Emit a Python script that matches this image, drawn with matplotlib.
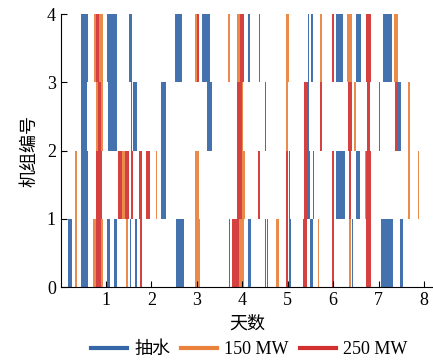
import matplotlib.pyplot as plt
from matplotlib.lines import Line2D

plt.rcParams['font.family'] = ['Liberation Serif', 'Noto Sans CJK SC']
plt.rcParams['axes.unicode_minus'] = False

# 运行区间 (起始天, 结束天, 工况)  工况: 0=抽水, 1=150 MW, 2=250 MW
unit1 = [(0.17, 0.26, 0), (0.32, 0.37, 1), (0.45, 0.61, 0), (0.72, 0.78, 1), (0.78, 0.90, 2),
         (0.90, 0.94, 1), (1.02, 1.09, 0), (1.17, 1.25, 0), (1.44, 1.49, 1), (1.53, 1.55, 0),
         (1.64, 1.68, 0), (1.75, 1.79, 2), (2.53, 2.72, 0), (2.96, 3.06, 1), (3.70, 3.74, 2),
         (3.77, 3.92, 2), (3.92, 4.03, 1), (4.12, 4.19, 0), (4.47, 4.48, 2), (4.51, 4.52, 0),
         (4.55, 4.56, 2), (4.75, 4.80, 1), (4.97, 5.01, 2), (5.03, 5.08, 0), (5.33, 5.43, 2),
         (5.50, 5.55, 0), (5.66, 5.70, 1), (5.97, 6.01, 2), (6.34, 6.39, 1), (6.42, 6.44, 0),
         (6.72, 6.84, 2), (7.05, 7.33, 0), (7.47, 7.53, 0)]
unit2 = [(0.32, 0.37, 1), (0.44, 0.61, 0), (0.79, 0.92, 2), (1.27, 1.35, 2), (1.35, 1.42, 1),
         (1.42, 1.50, 2), (1.55, 1.59, 2), (1.73, 1.79, 2), (1.88, 1.96, 2), (2.10, 2.13, 1),
         (2.21, 2.32, 0), (2.96, 3.04, 1), (3.88, 3.99, 2), (3.99, 4.05, 1), (4.34, 4.38, 2),
         (4.97, 5.01, 2), (5.03, 5.06, 0), (5.36, 5.42, 2), (5.43, 5.49, 0), (5.56, 5.59, 0),
         (5.97, 6.01, 2), (6.06, 6.26, 0), (6.34, 6.39, 2), (6.50, 6.59, 0), (6.70, 6.73, 1),
         (6.73, 6.83, 2), (7.64, 7.70, 1), (7.86, 7.90, 1)]
unit3 = [(0.44, 0.59, 0), (0.78, 0.82, 1), (0.82, 0.88, 2), (0.88, 0.94, 1), (1.05, 1.25, 0),
         (1.55, 1.58, 2), (1.60, 1.68, 0), (2.21, 2.32, 0), (3.22, 3.33, 0), (3.88, 4.00, 2),
         (4.00, 4.02, 1), (4.51, 4.52, 0), (4.97, 5.01, 1), (5.36, 5.43, 2), (5.43, 5.48, 0),
         (5.72, 5.76, 2), (6.33, 6.41, 2), (6.45, 6.50, 1), (6.74, 6.81, 2), (7.00, 7.03, 2),
         (7.36, 7.42, 2), (7.44, 7.49, 0), (7.64, 7.70, 1)]
unit4 = [(0.44, 0.60, 0), (0.74, 0.78, 1), (0.78, 0.80, 2), (0.80, 0.85, 2), (0.85, 0.94, 1),
         (1.03, 1.25, 0), (1.51, 1.55, 0), (1.55, 1.58, 2), (2.51, 2.68, 0), (2.96, 3.00, 1),
         (3.00, 3.05, 2), (3.11, 3.30, 0), (3.69, 3.74, 1), (3.88, 3.95, 1), (3.95, 4.03, 2),
         (4.12, 4.18, 0), (4.36, 4.40, 2), (4.97, 5.02, 1), (5.44, 5.48, 0), (5.51, 5.55, 0),
         (5.72, 5.76, 1), (5.97, 6.01, 2), (6.07, 6.22, 0), (6.30, 6.41, 1), (6.50, 6.62, 0),
         (6.72, 6.83, 2), (7.10, 7.29, 0), (7.34, 7.42, 1)]
units = [unit1, unit2, unit3, unit4]

mode_labels = ['抽水', '150 MW', '250 MW']
mode_colors = ['#3466a8', '#e9813c', '#d22f2f']

fig = plt.figure(figsize=(4.33, 3.63), dpi=100)
ax = fig.add_axes([0.14, 0.209, 0.86, 0.752])

for row, segs in enumerate(units):
    for start, end, mode in segs:
        ax.bar(start, 1, width=end - start, bottom=row, align='edge',
               color=mode_colors[mode], alpha=0.92, linewidth=0)

ax.set_xlim(0, 8.2)
ax.set_ylim(0, 4)
ax.set_xticks(range(1, 9))
ax.set_yticks(range(0, 5))
ax.tick_params(direction='in', length=4, labelsize=13)
ax.spines['top'].set_visible(False)
ax.spines['right'].set_visible(False)
ax.set_xlabel('天数', fontsize=13, labelpad=5)
ax.set_ylabel('机组编号', fontsize=13, labelpad=6)

handles = [Line2D([0], [0], color=c, lw=3) for c in mode_colors]
fig.legend(handles, mode_labels, loc='center', bbox_to_anchor=(0.575, 0.036), ncol=3,
           frameon=False, fontsize=13, handlelength=2.0, handletextpad=0.4, columnspacing=0.6)

fig.savefig('out.png', dpi=100)
